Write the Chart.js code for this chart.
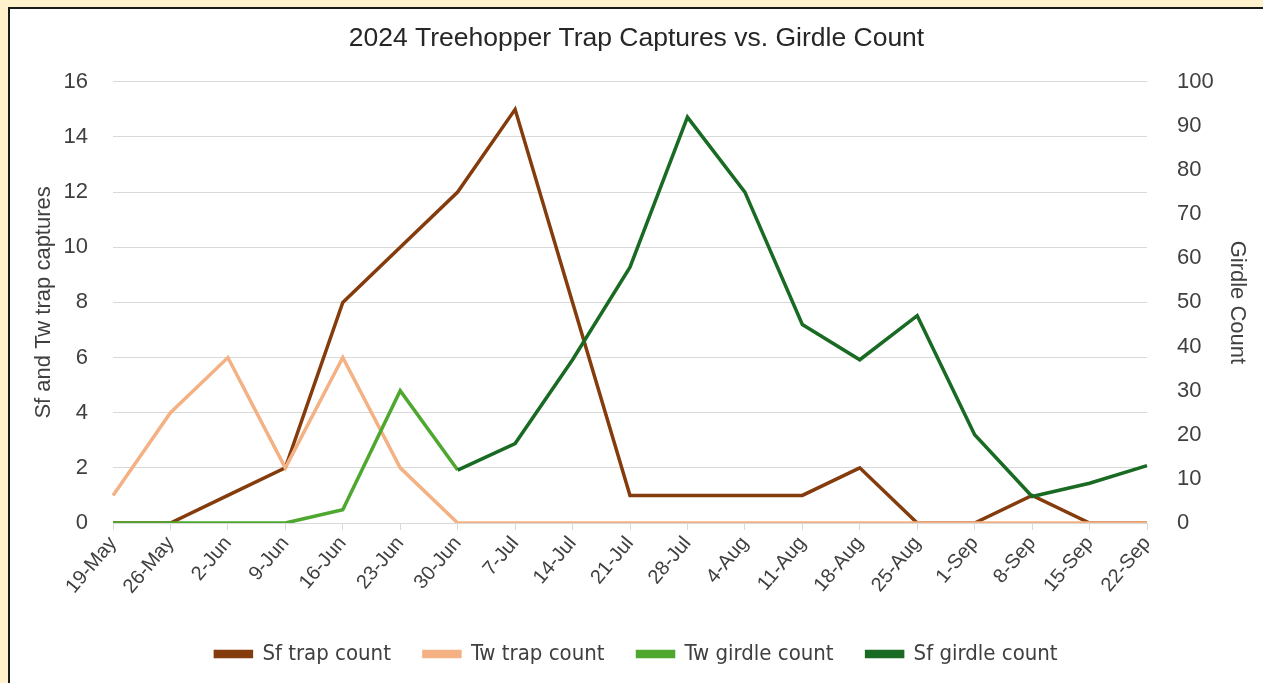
<!DOCTYPE html>
<html>
<head>
<meta charset="utf-8">
<script src="https://cdn.jsdelivr.net/npm/chart.js@4.4.1/dist/chart.umd.min.js"></script>
<style>
    html, body { margin: 0; padding: 0; background: #FFF2CC; overflow: hidden; }
    #frame {
        position: absolute; left: 8px; top: 7px; width: 1300px; height: 720px;
        background: #ffffff; border: 2px solid #1a1a1a;
    }
    #wrap { position: absolute; left: 10px; top: 9px; width: 1253px; height: 666px; }
</style>
</head>
<body>
<div id="frame"></div>
<div id="wrap"><canvas id="chart"></canvas></div>
<script>
const weeks = ["19-May", "26-May", "2-Jun", "9-Jun", "16-Jun", "23-Jun", "30-Jun", "7-Jul", "14-Jul",
    "21-Jul", "28-Jul", "4-Aug", "11-Aug", "18-Aug", "25-Aug", "1-Sep", "8-Sep", "15-Sep", "22-Sep"];

const sfTrap = [0, 0, 1, 2, 8, 10, 12, 15, 8, 1, 1, 1, 1, 2, 0, 0, 1, 0, 0];
const twTrap = [1, 4, 6, 2, 6, 2, 0, 0, 0, 0, 0, 0, 0, 0, 0, 0, 0, 0, 0];
const twGirdle = [0, 0, 0, 0, 3, 30, 12, null, null, null, null, null, null, null, null, null, null, null, null];
const sfGirdle = [null, null, null, null, null, null, 12, 18, 37, 58, 92, 75, 45, 37, 47, 20, 6, 9, 13];

const font = "'Liberation Sans', Arial, sans-serif";
const tickColor = "#404040";
const gridColor = "#d9d9d9";

function line(label, data, color, axis, order) {
    return {
        label, data, yAxisID: axis, order,
        borderColor: color, backgroundColor: color,
        borderWidth: 3.5, pointRadius: 0, tension: 0, spanGaps: false
    };
}

new Chart(document.getElementById("chart"), {
    type: "line",
    data: {
        labels: weeks,
        datasets: [
            line("Sf trap count", sfTrap, "#843C0C", "y", 4),
            line("Tw trap count", twTrap, "#F4B183", "y", 3),
            line("Tw girdle count", twGirdle, "#4EA72E", "y2", 2),
            line("Sf girdle count", sfGirdle, "#196B24", "y2", 1)
        ]
    },
    options: {
        responsive: true,
        maintainAspectRatio: false,
        animation: false,
        layout: { padding: 0 },
        plugins: {
            title: {
                display: true,
                text: "2024 Treehopper Trap Captures vs. Girdle Count",
                color: "#262626",
                font: { family: font, size: 26.5, weight: "normal" },
                padding: { top: 14, bottom: 27 }
            },
            legend: {
                position: "bottom",
                labels: {
                    color: tickColor,
                    font: { family: "'Liberation Sans Narrow', 'DejaVu Sans Condensed', sans-serif", size: 22 },
                    boxWidth: 36,
                    boxHeight: 5,
                    padding: 33,
                    sort: (a, b) => a.datasetIndex - b.datasetIndex
                }
            },
            tooltip: { enabled: false }
        },
        scales: {
            x: {
                offset: false,
                grid: { drawOnChartArea: false, drawTicks: true, tickLength: 7, color: gridColor },
                border: { display: true, color: gridColor },
                ticks: {
                    color: tickColor, autoSkip: false, maxRotation: 50, minRotation: 50,
                    font: { family: font, size: 20 }, padding: 2
                },
                afterFit: (s) => { s.height = 87; }
            },
            y: {
                position: "left",
                min: 0, max: 16,
                ticks: { stepSize: 2, color: tickColor, padding: 25, font: { family: font, size: 22 } },
                grid: { color: gridColor, drawTicks: false },
                border: { display: false },
                title: {
                    display: true, text: "Sf and Tw trap captures", color: tickColor,
                    font: { family: font, size: 22 }, padding: { top: 21, bottom: 0 }
                },
                afterFit: (s) => { s.width = 103; }
            },
            y2: {
                position: "right",
                min: 0, max: 100,
                ticks: { stepSize: 10, color: tickColor, padding: 22, font: { family: font, size: 22 } },
                grid: { display: false },
                border: { display: false },
                title: {
                    display: true, text: "Girdle Count", color: tickColor,
                    font: { family: font, size: 22 }, padding: { top: 13, bottom: 0 }
                },
                afterFit: (s) => { s.width = 116; }
            }
        }
    }
});
</script>
</body>
</html>
